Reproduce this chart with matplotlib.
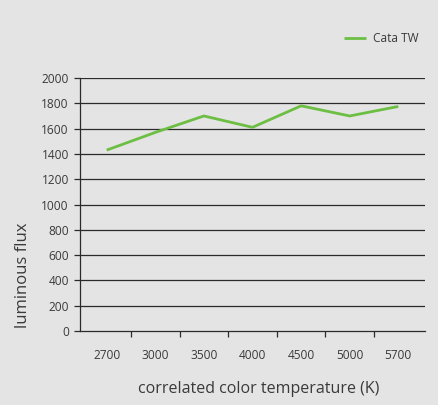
import matplotlib.pyplot as plt
import numpy as np

# CCT categories and measured flux for the tunable white fixture
cct_labels = ["2700", "3000", "3500", "4000", "4500", "5000", "5700"]
flux_cata_tw = [1430, 1570, 1700, 1610, 1780, 1700, 1775]
y_ticks = list(range(0, 2001, 200))

bg = "#e4e4e4"
text_col = "#3a3a3a"
plt.rcParams['font.family'] = ['Open Sans', 'DejaVu Sans']

fig = plt.figure(figsize=(4.38, 4.05), dpi=100, facecolor=bg)
ax = fig.add_axes([80 / 438, 74 / 405, 345 / 438, 253 / 405])
ax.set_facecolor(bg)

x = np.arange(len(cct_labels))
ax.plot(x, flux_cata_tw, color="#6cbf43", lw=2.0, label="Cata TW",
        solid_capstyle="butt", zorder=3)

ax.set_xlim(-0.55, len(cct_labels) - 0.45)
ax.set_ylim(0, 2000)

# horizontal grid
for v in y_ticks[1:]:
    ax.axhline(v, color="#2b2b2b", lw=0.9, zorder=1)

for s in ["top", "right"]:
    ax.spines[s].set_visible(False)
ax.spines["left"].set_color("#2b2b2b")
ax.spines["bottom"].set_color("#2b2b2b")
ax.spines["left"].set_linewidth(0.9)
ax.spines["bottom"].set_linewidth(0.9)

ax.set_yticks(y_ticks)
ax.tick_params(axis="y", length=4, width=0.9, color="#2b2b2b",
               labelsize=8.6, labelcolor=text_col, pad=4)

# category labels centred, tick marks at boundaries
ax.set_xticks(x)
ax.set_xticklabels(cct_labels)
ax.tick_params(axis="x", length=0, labelsize=8.6, labelcolor=text_col, pad=13)
ax.set_xticks(x[:-1] + 0.5, minor=True)
ax.tick_params(axis="x", which="minor", length=4, width=0.9, color="#2b2b2b")

fig.text(23.5 / 438, 1 - 275 / 405, "luminous flux", rotation=90,
         fontsize=12, color=text_col, ha="center", va="center")
fig.text(259 / 438, 1 - 389 / 405, "correlated color temperature (K)",
         fontsize=11.5, color=text_col, ha="center", va="center")

leg = ax.legend(loc="center left", bbox_to_anchor=(259 / 345, 1 + 39 / 253),
                frameon=False, fontsize=8.6, handlelength=1.85,
                handletextpad=0.6, labelcolor=text_col, borderaxespad=0)

fig.savefig("out.png", dpi=100, facecolor=bg)
